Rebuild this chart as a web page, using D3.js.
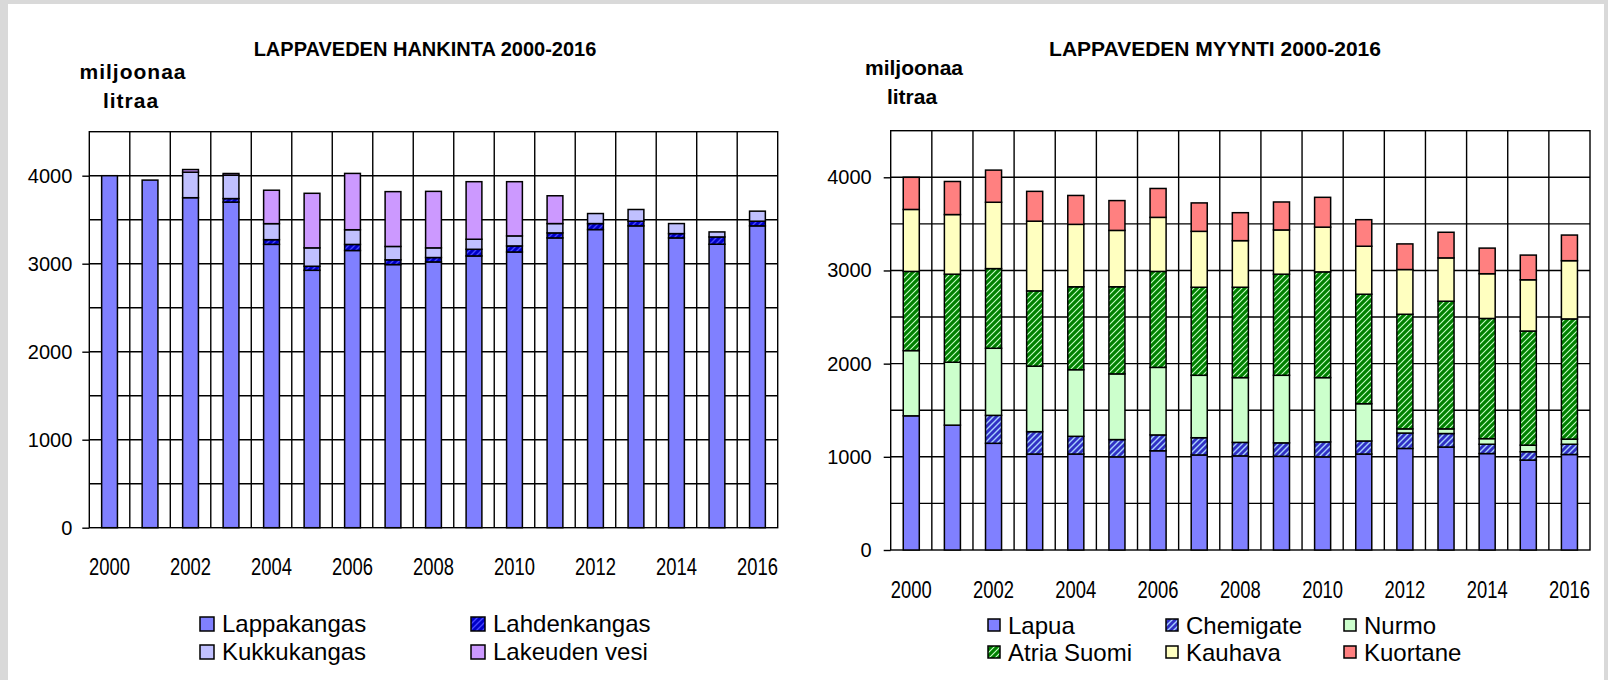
<!DOCTYPE html>
<html>
<head>
<meta charset="utf-8">
<script src="https://cdn.jsdelivr.net/npm/d3@7"></script>
<style>
 body { margin: 0; background: #d9d9d9; }
 svg { display: block; }
</style>
</head>
<body>
<div id="chart"></div>
<script>
// years shared by both charts
var years = d3.range(2000, 2017);
var yearLabels = ['2000', '2002', '2004', '2006', '2008', '2010', '2012', '2014', '2016'];
var yTickLabels = [0, 1000, 2000, 3000, 4000];

// LAPPAVEDEN HANKINTA (million litres), stack order bottom -> top
var hankintaNames = ['Lappakangas', 'Lahdenkangas', 'Kukkukangas', 'Lakeuden vesi'];
var lappakangas  = [4000, 3950, 3750, 3700, 3220, 2925, 3150, 2990, 3020, 3088, 3133, 3293, 3388, 3430, 3293, 3221, 3430];
var lahdenkangas = [0, 0, 0, 40, 53, 46, 69, 54, 50, 76, 69, 57, 68, 53, 49, 83, 53];
var kukkukangas  = [0, 0, 290, 265, 182, 209, 167, 152, 110, 114, 114, 106, 114, 133, 114, 57, 114];
var lakeudenVesi = [0, 0, 30, 20, 380, 620, 640, 623, 642, 654, 616, 316, 0, 0, 0, 0, 0];

// LAPPAVEDEN MYYNTI (million litres), stack order bottom -> top
var myyntiNames = ['Lapua', 'Chemigate', 'Nurmo', 'Atria Suomi', 'Kauhava', 'Kuortane'];
var lapua     = [1440, 1340, 1145, 1030, 1030, 1000, 1065, 1020, 1010, 1005, 1000, 1030, 1090, 1105, 1035, 965, 1025];
var chemigate = [0, 0, 300, 240, 190, 185, 170, 185, 145, 145, 160, 140, 165, 145, 100, 90, 110];
var nurmo     = [700, 675, 720, 703, 715, 705, 725, 670, 695, 725, 690, 400, 45, 50, 60, 70, 55];
var atria     = [850, 945, 855, 808, 890, 935, 1030, 945, 970, 1085, 1135, 1175, 1230, 1370, 1290, 1225, 1290];
var kauhava   = [665, 640, 712, 748, 670, 605, 580, 600, 500, 475, 480, 515, 480, 465, 480, 550, 625];
var kuortane  = [345, 355, 345, 320, 310, 320, 310, 305, 300, 300, 320, 285, 275, 275, 275, 265, 275];

var W = 1608, H = 680;
var svg = d3.select('#chart').append('svg').attr('width', W).attr('height', H);
var defs = svg.append('defs');

// striped fills used for some series (Excel style diagonal hatch)
function stripePattern(id, bg, fg, sw)
{
 var p = defs.append('pattern').attr('id', id)
  .attr('patternUnits', 'userSpaceOnUse').attr('width', 6).attr('height', 6);
 p.append('rect').attr('width', 6).attr('height', 6).attr('fill', bg);
 p.append('path').attr('d', 'M-1,1 L1,-1 M0,6 L6,0 M5,7 L7,5')
  .attr('stroke', fg).attr('stroke-width', sw);
 return 'url(#' + id + ')';
}
var fillLahden = stripePattern('pLahden', '#0000c8', '#4848ff', 1.3);
var fillChemi = stripePattern('pChemi', '#3030c4', '#a8d0ff', 1.4);
var fillAtria = stripePattern('pAtria', '#008000', '#c8ffc8', 1.1);

// white sheet on the grey textured background
svg.append('rect').attr('x', 0).attr('y', 0).attr('width', W).attr('height', H).attr('fill', '#d9d9d9');
svg.append('rect').attr('x', 8).attr('y', 4).attr('width', W - 12).attr('height', H - 4).attr('fill', '#fff');

var mainFont = '"Liberation Sans", Arial, sans-serif';

function drawChart(cfg)
{
 var rows = years.map(function(yr, i) {
  var r = { year: yr };
  cfg.names.forEach(function(n, k) { r[n] = cfg.series[k][i]; });
  return r;
 });
 var stacked = d3.stack().keys(cfg.names)(rows);

 var x = d3.scaleBand().domain(years).range([cfg.left, cfg.right]);
 var y = d3.scaleLinear().domain([0, 4500]).range([cfg.bottom, cfg.top]);
 var g = svg.append('g');

 // grid: horizontal every 500, vertical at category borders
 g.append('g').selectAll('line').data(d3.range(500, 4500, 500)).join('line')
  .attr('x1', cfg.left).attr('x2', cfg.right)
  .attr('y1', function(d) { return y(d); }).attr('y2', function(d) { return y(d); })
  .attr('stroke', '#000').attr('stroke-width', 1.4);
 g.append('g').selectAll('line').data(years.slice(1)).join('line')
  .attr('x1', function(d) { return x(d); }).attr('x2', function(d) { return x(d); })
  .attr('y1', cfg.top).attr('y2', cfg.bottom)
  .attr('stroke', '#000').attr('stroke-width', 1.4);
 g.append('rect').attr('x', cfg.left).attr('y', cfg.top)
  .attr('width', cfg.right - cfg.left).attr('height', cfg.bottom - cfg.top)
  .attr('fill', 'none').attr('stroke', '#000').attr('stroke-width', 1.4);

 // bars
 var bw = x.bandwidth() * 0.39;
 stacked.forEach(function(layer, k) {
  g.append('g').selectAll('rect').data(layer.filter(function(d) { return d[1] > d[0]; })).join('rect')
   .attr('x', function(d) { return x(d.data.year) + (x.bandwidth() - bw) / 2; })
   .attr('width', bw)
   .attr('y', function(d) { return y(d[1]); })
   .attr('height', function(d) { return y(d[0]) - y(d[1]); })
   .attr('fill', cfg.fills[k]).attr('stroke', '#000').attr('stroke-width', 1.5);
 });

 // y axis
 var yAxis = d3.axisLeft(y).tickValues(yTickLabels).tickSize(7).tickPadding(cfg.tickPad).tickFormat(d3.format('d'));
 var ya = g.append('g').attr('transform', 'translate(' + cfg.left + ',0)').call(yAxis);
 ya.select('.domain').remove();
 ya.selectAll('line').attr('stroke', '#000').attr('stroke-width', 1.4);
 ya.selectAll('text').attr('font-family', mainFont).attr('font-size', 20).attr('fill', '#000');

 // x labels, condensed like Arial Narrow
 g.append('g').selectAll('text').data(yearLabels).join('text')
  .attr('transform', function(d) {
   return 'translate(' + (x(+d) + x.bandwidth() / 2) + ',' + cfg.xLabelY + ') scale(0.8,1)';
  })
  .attr('text-anchor', 'middle')
  .attr('font-family', mainFont).attr('font-size', 23).attr('fill', '#000')
  .text(function(d) { return d; });

 // titles
 g.append('text').attr('x', cfg.titleX).attr('y', 56).attr('text-anchor', 'middle')
  .attr('font-family', mainFont).attr('font-weight', 'bold').attr('font-size', cfg.titleSize)
  .text(cfg.title);
 g.append('text').attr('x', cfg.unitX).attr('y', cfg.unitY).attr('text-anchor', 'middle')
  .attr('font-family', mainFont).attr('font-weight', 'bold').attr('font-size', 21)
  .attr('letter-spacing', cfg.unitSpacing)
  .text('miljoonaa');
 g.append('text').attr('x', cfg.unitX - 2).attr('y', cfg.unitY + 29).attr('text-anchor', 'middle')
  .attr('font-family', mainFont).attr('font-weight', 'bold').attr('font-size', 21)
  .attr('letter-spacing', cfg.unitSpacing)
  .text('litraa');

 // legend
 var lg = g.append('g').selectAll('g').data(cfg.names).join('g')
  .attr('transform', function(d, i) {
   return 'translate(' + (cfg.legX + (i % cfg.legCols) * cfg.legColW) + ',' + (cfg.legY + Math.floor(i / cfg.legCols) * cfg.legRowH) + ')';
  });
 lg.append('rect').attr('x', 0).attr('y', -13).attr('width', cfg.legBox).attr('height', cfg.legBox)
  .attr('fill', function(d, i) { return cfg.fills[i]; })
  .attr('stroke', '#000').attr('stroke-width', 1.5);
 lg.append('text').attr('x', cfg.legBox + 8).attr('y', 2)
  .attr('font-family', mainFont).attr('font-size', cfg.legFont).attr('fill', '#000')
  .text(function(d) { return d; });
}

drawChart({
 names: hankintaNames,
 series: [lappakangas, lahdenkangas, kukkukangas, lakeudenVesi],
 fills: ['#8080ff', fillLahden, '#c0c0ff', '#cc99ff'],
 left: 89.3, right: 777.7, top: 131.7, bottom: 527.7,
 tickPad: 10, xLabelY: 575,
 title: 'LAPPAVEDEN HANKINTA 2000-2016', titleX: 425, titleSize: 20,
 unitX: 133, unitY: 79, unitSpacing: 1,
 legX: 200, legY: 630, legCols: 2, legColW: 271, legRowH: 28, legBox: 14, legFont: 24
});

drawChart({
 names: myyntiNames,
 series: [lapua, chemigate, nurmo, atria, kauhava, kuortane],
 fills: ['#8080ff', fillChemi, '#ccffcc', fillAtria, '#ffffc0', '#ff8080'],
 left: 890.7, right: 1590, top: 130.7, bottom: 550,
 tickPad: 12, xLabelY: 598,
 title: 'LAPPAVEDEN MYYNTI 2000-2016', titleX: 1215, titleSize: 21,
 unitX: 914, unitY: 75, unitSpacing: 0,
 legX: 988, legY: 632, legCols: 3, legColW: 178, legRowH: 27, legBox: 12, legFont: 24
});
</script>
</body>
</html>
